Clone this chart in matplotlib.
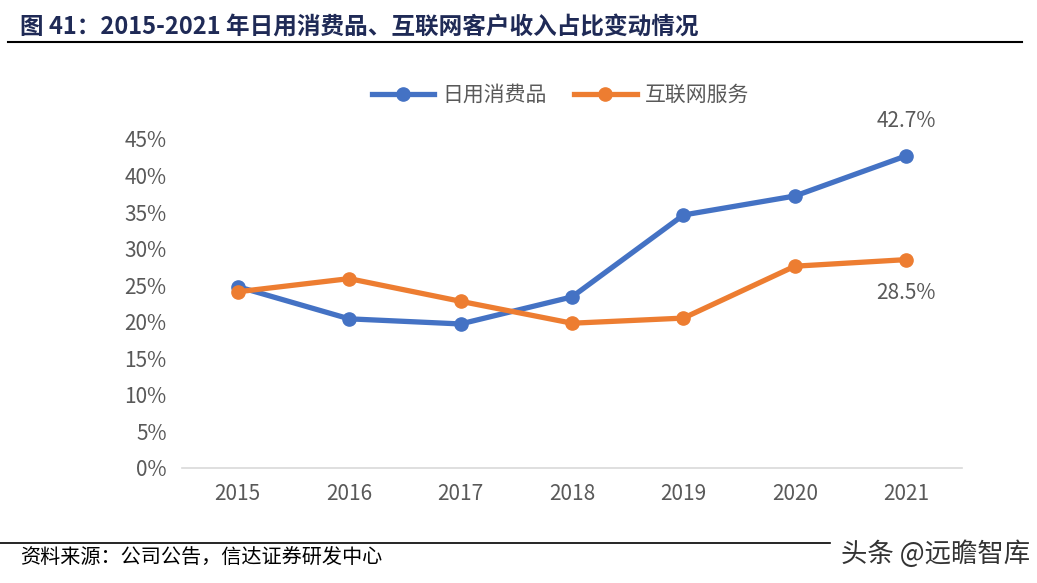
#%% imports

import matplotlib
matplotlib.use('Agg')
import matplotlib.pyplot as plt
from matplotlib.ticker import PercentFormatter

plt.rcParams['font.family'] = ['Noto Sans CJK SC', 'DejaVu Sans']

#%% data

years = ['2015', '2016', '2017', '2018', '2019', '2020', '2021']
consumer = [24.8, 20.4, 19.7, 23.4, 34.6, 37.2, 42.7]   # 日用消费品
internet = [24.1, 25.9, 22.8, 19.8, 20.5, 27.6, 28.5]   # 互联网服务
yticks = [0, 5, 10, 15, 20, 25, 30, 35, 40, 45]

blue = '#4472C4'
orange = '#ED7D31'
grey = '#595959'

#%% plot

fig = plt.figure(figsize=(10.37, 5.83), dpi=100)
ax = fig.add_axes([0.1755, 0.1973, 0.7522, 0.5643])

x = range(len(years))
ax.plot(x, consumer, color=blue, lw=3.8, marker='o', ms=9.5, label='日用消费品', clip_on=False, zorder=3)
ax.plot(x, internet, color=orange, lw=3.8, marker='o', ms=9.5, label='互联网服务', clip_on=False, zorder=3)

ax.set_xlim(-0.5, len(years) - 0.5)
ax.set_ylim(0, 45)
ax.set_xticks(list(x))
ax.set_xticklabels(years)
ax.set_yticks(yticks)
ax.yaxis.set_major_formatter(PercentFormatter(decimals=0))
ax.tick_params(length=0, labelsize=15, colors=grey)
ax.tick_params(axis='x', pad=11)
ax.tick_params(axis='y', pad=11)

for s in ['top', 'right', 'left']:
    ax.spines[s].set_visible(False)
ax.spines['bottom'].set_color('#d9d9d9')
ax.spines['bottom'].set_linewidth(1.2)

# labels on last points
ax.annotate(f'{consumer[-1]}%', (x[-1], consumer[-1]), xytext=(0, 17), textcoords='offset points',
            ha='center', va='bottom', fontsize=15, color=grey)
ax.annotate(f'{internet[-1]}%', (x[-1], internet[-1]), xytext=(0, -16), textcoords='offset points',
            ha='center', va='top', fontsize=15, color=grey)

leg = ax.legend(loc='center', bbox_to_anchor=(0.5405, 0.8370), bbox_transform=fig.transFigure,
                ncol=2, frameon=False, fontsize=15, handlelength=3.0, columnspacing=1.3,
                handletextpad=0.4)
for t in leg.get_texts():
    t.set_color(grey)

#%% title and footer

fig.text(0.019, 0.955, '图 41：2015-2021 年日用消费品、互联网客户收入占比变动情况',
         fontsize=17, fontweight='bold', color='#1f2a56', ha='left', va='center')
fig.add_artist(plt.Line2D([0.008, 0.986], [0.928, 0.928], color='black', lw=1.5))

fig.add_artist(plt.Line2D([0.0, 0.80], [0.069, 0.069], color='black', lw=1.2))
fig.text(0.019, 0.044, '资料来源：公司公告，信达证券研发中心', fontsize=14.5, style='italic',
         color='black', ha='left', va='center')
fig.text(0.993, 0.05, '头条 @远瞻智库', fontsize=19, color='#333333', ha='right', va='center')

fig.savefig('out.png', dpi=100)
